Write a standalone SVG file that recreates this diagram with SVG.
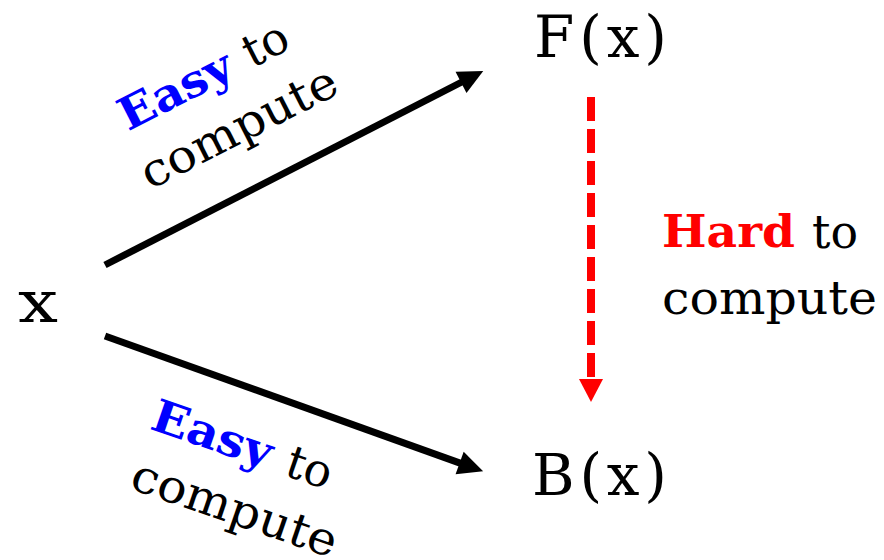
<svg xmlns="http://www.w3.org/2000/svg" width="884" height="560" viewBox="0 0 884 560">
<style>
.node{font-family:"DejaVu Serif","Liberation Serif",serif;font-size:58px;fill:#000}
.lbl{font-family:"DejaVu Serif","Liberation Serif",serif;font-size:46px;fill:#000}
.em{font-weight:bold;font-size:45px}
.blue{fill:#0000ff}
.red{fill:#ff0000}
.conn{stroke:#000;stroke-width:7;fill:none}
.hard{stroke:#ff0000;stroke-width:8;stroke-dasharray:24 8;fill:none}
</style>
<defs>
<marker id="ah" markerUnits="userSpaceOnUse" markerWidth="30" markerHeight="30" refX="2" refY="0" orient="auto" overflow="visible">
<path d="M0,-12 L25,0 L0,12 z" fill="#000"/>
</marker>
<marker id="ahr" markerUnits="userSpaceOnUse" markerWidth="30" markerHeight="30" refX="1" refY="0" orient="auto" overflow="visible">
<path d="M0,-12 L23,0 L0,12 z" fill="#ff0000"/>
</marker>
</defs>
<g id="connectors">
<line class="conn" x1="105" y1="265" x2="462.8" y2="81.5" marker-end="url(#ah)"/>
<line class="conn" x1="105" y1="336" x2="461.5" y2="463.6" marker-end="url(#ah)"/>
<line class="hard" x1="591" y1="97" x2="591" y2="380" marker-end="url(#ahr)"/>
</g>
<g id="node-x"><text class="node" x="18" y="322" font-size="62" textLength="40" lengthAdjust="spacingAndGlyphs">x</text></g>
<g id="node-F"><text class="node" x="534" y="57" textLength="133" lengthAdjust="spacing">F(x)</text></g>
<g id="node-B"><text class="node" x="532" y="495" textLength="135" lengthAdjust="spacing">B(x)</text></g>
<g id="label-upper" transform="translate(150,190) rotate(-27)">
<text class="lbl em blue" x="7" y="-62" textLength="122" lengthAdjust="spacingAndGlyphs">Easy</text>
<text class="lbl" x="146" y="-62" textLength="46" lengthAdjust="spacingAndGlyphs">to</text>
<text class="lbl" x="0" y="0" textLength="215" lengthAdjust="spacingAndGlyphs">compute</text>
</g>
<g id="label-lower" transform="translate(128,488) rotate(19)">
<text class="lbl em blue" x="0" y="-63" textLength="125" lengthAdjust="spacingAndGlyphs">Easy</text>
<text class="lbl" x="142" y="-63" textLength="46" lengthAdjust="spacingAndGlyphs">to</text>
<text class="lbl" x="0" y="0" textLength="215" lengthAdjust="spacingAndGlyphs">compute</text>
</g>
<g id="label-hard">
<text class="lbl em red" x="662" y="247" textLength="133" lengthAdjust="spacingAndGlyphs">Hard</text>
<text class="lbl" x="812" y="248" textLength="46" lengthAdjust="spacingAndGlyphs">to</text>
<text class="lbl" x="662" y="314" textLength="215" lengthAdjust="spacingAndGlyphs">compute</text>
</g>
</svg>
